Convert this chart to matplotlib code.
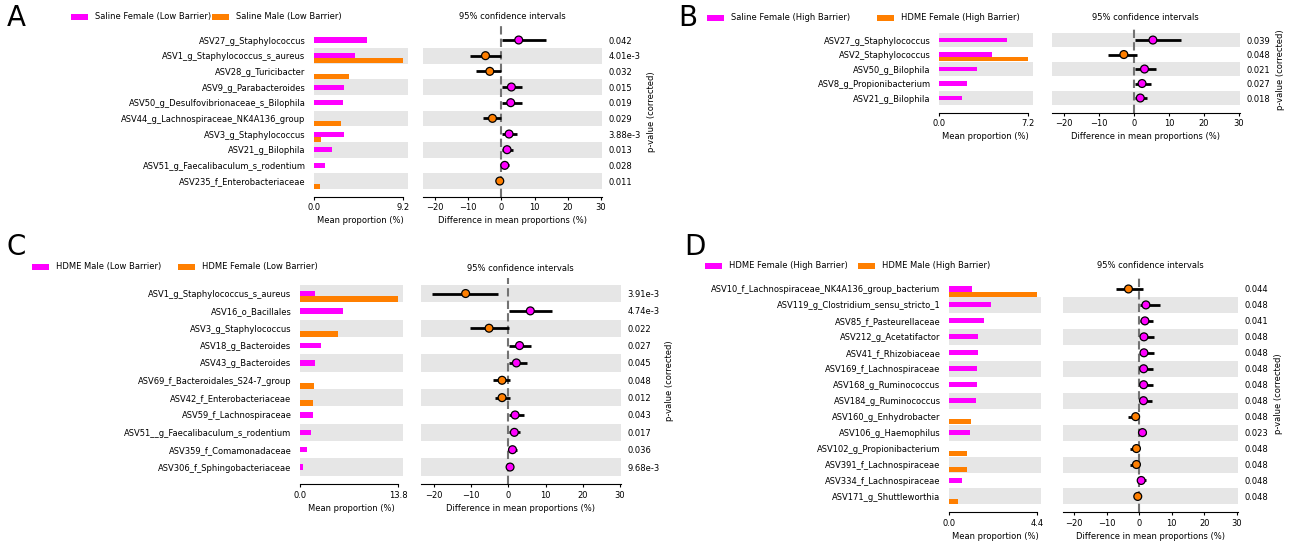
import matplotlib
matplotlib.use("Agg")
import matplotlib.pyplot as plt
from matplotlib.patches import Rectangle

plt.rcParams['font.family'] = ['DejaVu Sans']
plt.rcParams['font.size'] = 6

W, H = 1290, 547
PINK = '#ff00ff'
ORANGE = '#ff7f00'
BAND = '0.9'

# ---- Panel A ----
a_groups = ['Saline Female (Low Barrier)', 'Saline Male (Low Barrier)']
a_labels = ['ASV27_g_Staphylococcus', 'ASV1_g_Staphylococcus_s_aureus', 'ASV28_g_Turicibacter',
            'ASV9_g_Parabacteroides', 'ASV50_g_Desulfovibrionaceae_s_Bilophila',
            'ASV44_g_Lachnospiraceae_NK4A136_group', 'ASV3_g_Staphylococcus', 'ASV21_g_Bilophila',
            'ASV51_g_Faecalibaculum_s_rodentium', 'ASV235_f_Enterobacteriaceae']
a_mean1 = [5.45, 4.28, 0.0, 3.1, 3.0, 0.0, 3.07, 1.83, 1.1, 0.0]
a_mean2 = [0.0, 9.2, 3.6, 0.0, 0.0, 2.8, 0.76, 0.0, 0.0, 0.65]
a_diff = [5.2, -4.8, -3.5, 3.0, 2.8, -2.7, 2.3, 1.7, 1.0, -0.5]
a_lo = [0.2, -9.5, -7.8, 0.1, 0.1, -5.5, 0.2, 0.2, 0.2, -1.1]
a_hi = [13.3, -0.1, -0.1, 6.3, 6.1, -0.1, 4.7, 3.5, 2.4, 0.0]
a_pvals = ['0.042', '4.01e-3', '0.032', '0.015', '0.019', '0.029', '3.88e-3', '0.013', '0.028', '0.011']

# ---- Panel B ----
b_groups = ['Saline Female (High Barrier)', 'HDME Female (High Barrier)']
b_labels = ['ASV27_g_Staphylococcus', 'ASV2_Staphylococcus', 'ASV50_g_Bilophila',
            'ASV8_g_Propionibacterium', 'ASV21_g_Bilophila']
b_mean1 = [5.5, 4.27, 3.04, 2.23, 1.9]
b_mean2 = [0.0, 7.2, 0.0, 0.0, 0.0]
b_diff = [5.4, -2.9, 3.0, 2.3, 1.8]
b_lo = [0.2, -7.4, 0.2, 0.2, 0.2]
b_hi = [13.5, 0.8, 6.3, 4.9, 3.8]
b_pvals = ['0.039', '0.048', '0.021', '0.027', '0.018']

# ---- Panel C ----
c_groups = ['HDME Male (Low Barrier)', 'HDME Female (Low Barrier)']
c_labels = ['ASV1_g_Staphylococcus_s_aureus', 'ASV16_o_Bacillales', 'ASV3_g_Staphylococcus',
            'ASV18_g_Bacteroides', 'ASV43_g_Bacteroides', 'ASV69_f_Bacteroidales_S24-7_group',
            'ASV42_f_Enterobacteriaceae', 'ASV59_f_Lachnospiraceae',
            'ASV51__g_Faecalibaculum_s_rodentium', 'ASV359_f_Comamonadaceae',
            'ASV306_f_Sphingobacteriaceae']
c_mean1 = [2.15, 6.0, 0.0, 3.0, 2.15, 0.0, 0.0, 1.8, 1.6, 1.0, 0.37]
c_mean2 = [13.8, 0.0, 5.3, 0.0, 0.0, 1.9, 1.8, 0.0, 0.0, 0.0, 0.0]
c_diff = [-11.5, 5.9, -5.2, 3.0, 2.15, -1.7, -1.7, 1.8, 1.6, 1.1, 0.45]
c_lo = [-20.5, 0.1, -10.4, 0.1, 0.1, -4.1, -3.5, 0.1, 0.1, 0.1, 0.05]
c_hi = [-2.8, 11.7, 0.2, 6.1, 4.9, 0.3, 0.3, 4.2, 3.2, 2.4, 0.9]
c_pvals = ['3.91e-3', '4.74e-3', '0.022', '0.027', '0.045', '0.048', '0.012', '0.043',
           '0.017', '0.036', '9.68e-3']

# ---- Panel D ----
d_groups = ['HDME Female (High Barrier)', 'HDME Male (High Barrier)']
d_labels = ['ASV10_f_Lachnospiraceae_NK4A136_group_bacterium', 'ASV119_g_Clostridium_sensu_stricto_1',
            'ASV85_f_Pasteurellaceae', 'ASV212_g_Acetatifactor', 'ASV41_f_Rhizobiaceae',
            'ASV169_f_Lachnospiraceae', 'ASV168_g_Ruminococcus', 'ASV184_g_Ruminococcus',
            'ASV160_g_Enhydrobacter', 'ASV106_g_Haemophilus', 'ASV102_g_Propionibacterium',
            'ASV391_f_Lachnospiraceae', 'ASV334_f_Lachnospiraceae', 'ASV171_g_Shuttleworthia']
d_mean1 = [1.17, 2.12, 1.75, 1.47, 1.47, 1.4, 1.4, 1.33, 0.0, 1.03, 0.0, 0.0, 0.65, 0.0]
d_mean2 = [4.4, 0.0, 0.0, 0.0, 0.0, 0.0, 0.0, 0.0, 1.08, 0.0, 0.88, 0.88, 0.0, 0.45]
d_diff = [-3.3, 2.05, 1.75, 1.45, 1.45, 1.35, 1.35, 1.3, -1.1, 1.0, -0.85, -0.85, 0.6, -0.45]
d_lo = [-7.1, 0.1, 0.1, 0.1, 0.1, 0.1, 0.1, 0.1, -3.5, 0.1, -2.8, -2.8, 0.1, -1.2]
d_hi = [1.1, 6.3, 4.2, 4.4, 4.4, 4.2, 4.2, 4.0, 0.0, 2.0, 0.0, 0.0, 2.1, 0.0]
d_pvals = ['0.044', '0.048', '0.041', '0.048', '0.048', '0.048', '0.048', '0.048', '0.048',
           '0.023', '0.048', '0.048', '0.048', '0.048']


def px_axes(fig, x0, x1, y0, y1):
    return fig.add_axes([x0 / W, 1 - y1 / H, (x1 - x0) / W, (y1 - y0) / H])


def legend_entry(fig, x, y, color, text):
    fig.add_artist(Rectangle((x / W, 1 - (y + 3) / H), 17 / W, 6 / H,
                             transform=fig.transFigure, color=color, lw=0))
    fig.text((x + 24) / W, 1 - y / H, text, va='center', ha='left', fontsize=6)


def draw_panel(fig, letter, groups, labels, m1, m2, diff, lo, hi, pvals,
               bar_box, ci_box, letter_xy, legend_xy):
    n = len(labels)
    rows = list(range(n))
    ax_bar = px_axes(fig, *bar_box)
    ax_ci = px_axes(fig, *ci_box)
    for ax in (ax_bar, ax_ci):
        for i in rows:
            if (n - 1 - i) % 2 == 0:
                ax.axhspan(i - 0.5, i + 0.5, color=BAND, lw=0, zorder=0)
        ax.set_ylim(n, -0.9)
        for s in ('left', 'right', 'top'):
            ax.spines[s].set_visible(False)
        ax.spines['bottom'].set_linewidth(0.8)
        ax.tick_params(axis='y', length=0)
        ax.tick_params(axis='x', length=2.5, pad=2, labelsize=6)

    xmax = max(max(m1), max(m2))
    bh = 0.32
    ax_bar.barh(rows, m1, height=bh, color=PINK, zorder=2)
    ax_bar.barh([r + bh for r in rows], m2, height=bh, color=ORANGE, zorder=2)
    ax_bar.set_xlim(0, xmax * 1.05)
    ax_bar.spines['bottom'].set_bounds(0, xmax)
    ax_bar.set_xticks([0, xmax])
    ax_bar.set_xticklabels(['0.0', f'{xmax:.1f}'])
    ax_bar.set_yticks(rows)
    ax_bar.set_yticklabels(labels)
    ax_bar.tick_params(axis='y', pad=6, labelsize=6)
    ax_bar.set_xlabel('Mean proportion (%)', fontsize=6, labelpad=3)

    ax_ci.axvline(0, color='0.45', ls=(0, (4, 2)), lw=1.5, zorder=1)
    ax_ci.hlines(rows, lo, hi, color='black', lw=2, zorder=3)
    colors = [PINK if d > 0 else ORANGE for d in diff]
    ax_ci.scatter(diff, rows, s=32, c=colors, edgecolors='black', linewidths=0.9, zorder=4)
    ax_ci.set_xlim(-23.5, 30.2)
    ax_ci.set_xticks([-20, -10, 0, 10, 20, 30])
    ax_ci.set_yticks([])
    ax_ci.set_xlabel('Difference in mean proportions (%)', fontsize=6, labelpad=3)
    ax_ci.set_title('95% confidence intervals', fontsize=6, pad=5)

    ax_p = ax_ci.twinx()
    ax_p.set_ylim(n, -0.9)
    ax_p.set_yticks(rows)
    ax_p.set_yticklabels(pvals)
    ax_p.tick_params(axis='y', length=0, pad=5, labelsize=6)
    for s in ax_p.spines.values():
        s.set_visible(False)
    ax_p.set_ylabel('p-value (corrected)', fontsize=6, labelpad=4)

    fig.text(letter_xy[0] / W, 1 - letter_xy[1] / H, letter, fontsize=20,
             ha='center', va='center')
    (x1, x2, y) = legend_xy
    legend_entry(fig, x1, y, PINK, groups[0])
    legend_entry(fig, x2, y, ORANGE, groups[1])


fig = plt.figure(figsize=(12.9, 5.47), dpi=100)

draw_panel(fig, 'A', a_groups, a_labels, a_mean1, a_mean2, a_diff, a_lo, a_hi, a_pvals,
           (314, 407.5, 25.9, 196.7), (423.4, 601.7, 25.9, 196.7), (16, 18), (71, 212, 17))
draw_panel(fig, 'B', b_groups, b_labels, b_mean1, b_mean2, b_diff, b_lo, b_hi, b_pvals,
           (939, 1032.5, 27, 112.5), (1051.75, 1239.7, 27, 112.5), (688, 18), (707, 877, 18))
draw_panel(fig, 'C', c_groups, c_labels, c_mean1, c_mean2, c_diff, c_lo, c_hi, c_pvals,
           (300, 403, 277.9, 484.4), (421, 620.7, 277.9, 484.4), (16, 247), (32, 178, 267))
draw_panel(fig, 'D', d_groups, d_labels, d_mean1, d_mean2, d_diff, d_lo, d_hi, d_pvals,
           (949, 1041.4, 274.6, 512.4), (1062.6, 1237.7, 274.6, 512.4), (695, 247), (705, 858, 266))

fig.savefig('out.png', dpi=100)
